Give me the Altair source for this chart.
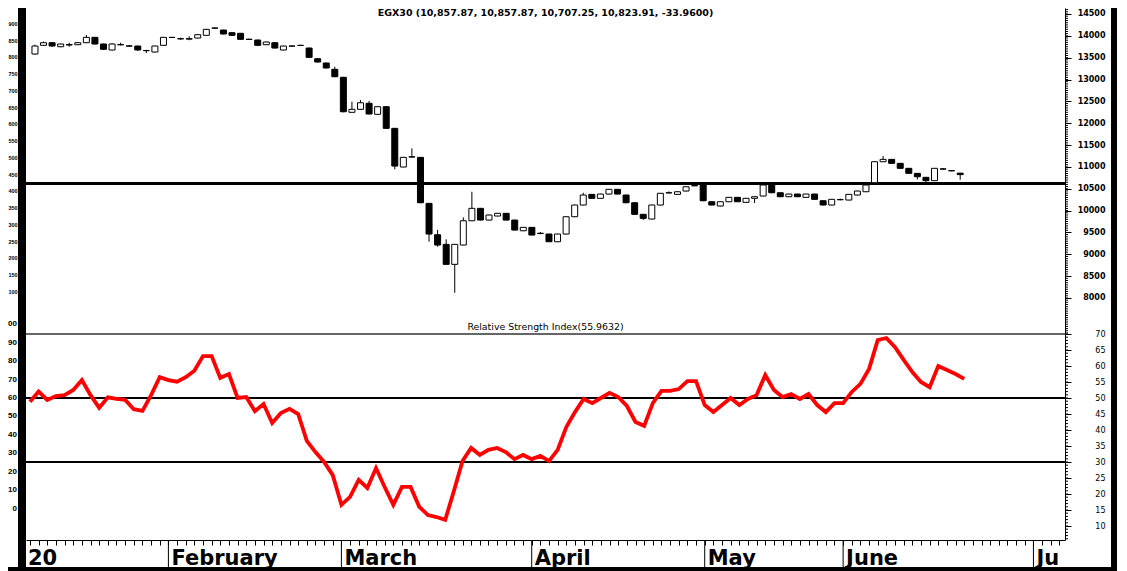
import altair as alt
import pandas as pd

# ---------------- data ----------------
OPEN_JAN = [13584, 13783, 13843, 13751, 13790, 13797, 13843, 13966, 13813, 13676, 13795, 13770, 13767, 13665, 13630, 13783]
HIGH_JAN = [13800, 13870, 13860, 13820, 13843, 13850, 14019, 13975, 13820, 13830, 13843, 13790, 13775, 13680, 13775, 13975]
LOW_JAN = [13570, 13775, 13750, 13740, 13751, 13790, 13835, 13800, 13680, 13670, 13780, 13750, 13660, 13607, 13620, 13775]
CLOSE_JAN = [13767, 13843, 13767, 13813, 13800, 13843, 13966, 13813, 13692, 13813, 13800, 13765, 13676, 13660, 13767, 13966]

OPEN_FEB = [13966, 13930, 13925, 13950, 14012, 14180, 14133, 14072, 14058, 13922, 13904, 13797, 13843, 13676, 13767, 13783, 13721, 13476, 13378, 13234]
HIGH_FEB = [13975, 13960, 13990, 14040, 14160, 14190, 14140, 14085, 14065, 13935, 13915, 13870, 13850, 13775, 13780, 13795, 13730, 13485, 13390, 13293]
LOW_FEB = [13955, 13910, 13900, 13940, 14005, 14165, 14035, 14005, 13910, 13905, 13775, 13790, 13710, 13665, 13755, 13770, 13500, 13390, 13255, 13055]
CLOSE_FEB = [13962, 13936, 13936, 14026, 14149, 14176, 14042, 14012, 13920, 13918, 13783, 13859, 13721, 13767, 13765, 13780, 13508, 13401, 13264, 13064]

OPEN_MAR = [13051, 12250, 12318, 12456, 12204, 12378, 11883, 10998, 11225, 11219, 10166, 9448, 9228, 8770, 9212, 9768, 10052, 9784, 9876, 9938, 9784, 9539]
HIGH_MAR = [13060, 12492, 12531, 12508, 12390, 12385, 11890, 11230, 11425, 11225, 10175, 9560, 9343, 9235, 9846, 10432, 10060, 9910, 9945, 9945, 9790, 9625]
LOW_MAR = [12250, 12240, 12310, 12200, 12195, 11875, 10945, 10990, 11215, 10170, 9288, 9173, 8760, 8120, 9205, 9760, 9775, 9775, 9870, 9775, 9545, 9530]
CLOSE_MAR = [12263, 12318, 12469, 12211, 12378, 11883, 11020, 11219, 11233, 10180, 9464, 9212, 8770, 9228, 9768, 10052, 9784, 9899, 9938, 9784, 9555, 9617]

OPEN_APR = [9617, 9475, 9464, 9288, 9464, 9860, 10128, 10372, 10281, 10379, 10487, 10357, 10180, 9915, 9807, 10128, 10405, 10372, 10448, 10568]
HIGH_APR = [9625, 9510, 9470, 9470, 9870, 10135, 10409, 10380, 10385, 10495, 10495, 10365, 10190, 9920, 10135, 10405, 10440, 10440, 10555, 10600]
LOW_APR = [9435, 9460, 9280, 9280, 9455, 9850, 10120, 10275, 10275, 10370, 10370, 10170, 9905, 9784, 9800, 10120, 10395, 10365, 10440, 10560]
CLOSE_APR = [9441, 9482, 9288, 9464, 9860, 10128, 10357, 10281, 10379, 10487, 10379, 10180, 9915, 9823, 10128, 10396, 10409, 10432, 10546, 10572]

OPEN_MAY = [10586, 10203, 10105, 10203, 10304, 10189, 10281, 10334, 10586, 10409, 10318, 10379, 10304, 10379, 10226, 10128]
HIGH_MAY = [10600, 10210, 10210, 10310, 10310, 10290, 10325, 10595, 10595, 10415, 10385, 10385, 10385, 10385, 10235, 10265]
LOW_MAY = [10215, 10120, 10095, 10195, 10195, 10180, 10173, 10325, 10400, 10310, 10310, 10310, 10295, 10250, 10120, 10120]
CLOSE_MAY = [10226, 10128, 10203, 10304, 10203, 10281, 10318, 10586, 10409, 10318, 10379, 10318, 10379, 10258, 10128, 10258]

OPEN_JUN = [10250, 10242, 10357, 10432, 10638, 11119, 11173, 11082, 10968, 10853, 10762, 10685, 10955, 10915, 10857.87]
HIGH_JUN = [10275, 10380, 10455, 10595, 11125, 11249, 11180, 11090, 10975, 10860, 10770, 10975, 10975, 10925, 10857.87]
LOW_JUN = [10235, 10235, 10350, 10425, 10630, 11110, 11075, 10960, 10845, 10716, 10654, 10678, 10940, 10900, 10707.25]
CLOSE_JUN = [10252, 10372, 10448, 10586, 11119, 11173, 11082, 10968, 10853, 10776, 10685, 10968, 10950, 10910, 10823.91]

RSI_JAN = [48.8, 52.0, 49.4, 50.6, 50.9, 52.5, 55.6, 50.9, 46.9, 50.2, 49.7, 49.4, 46.5, 46.0, 50.9, 56.5]
RSI_FEB = [55.6, 55.1, 56.5, 58.5, 63.1, 63.1, 56.3, 57.5, 50.0, 50.3, 45.9, 48.1, 42.2, 45.3, 46.6, 45.0, 36.6, 33.1, 30.0, 25.9]
RSI_MAR = [16.6, 19.1, 24.4, 21.9, 28.1, 22.2, 16.6, 22.2, 22.2, 16.0, 13.4, 12.8, 11.9, 20.9, 30.3, 34.4, 32.2, 33.8, 34.4, 33.1, 30.9, 32.2]
RSI_APR = [30.9, 31.9, 30.3, 33.8, 40.9, 45.6, 49.7, 48.4, 50.0, 51.6, 50.3, 47.5, 42.5, 41.3, 48.4, 52.2, 52.2, 52.8, 55.3, 55.3]
RSI_MAY = [47.8, 45.6, 47.8, 50.0, 47.8, 49.7, 50.9, 57.2, 52.5, 50.3, 51.25, 49.7, 51.25, 47.8, 45.6, 48.4]
RSI_JUN = [48.4, 51.9, 54.4, 59.1, 68.1, 68.75, 65.9, 61.9, 58.1, 55.0, 53.4, 60.0, 58.75, 57.5, 55.96]

SUPPORT_LEVEL = [10620]
RSI_TOP_LEVEL = [70]
RSI_LEVELS = [50, 30]

MONTH_NAMES = ["20", "February", "March", "April", "May", "June", "Ju"]
MONTH_POS = [-0.58, 16, 36, 58, 78, 94, 116]
MONTH_DIVIDERS = [16, 36, 58, 78, 94, 116]
DAY_TICKS = list(range(0, 120))

PRICE_TICKS = list(range(8000, 14501, 500))
PRICE_MINOR = list(range(7200, 14601, 50))
RSI_TICKS = list(range(10, 71, 5))
RSI_MINOR = list(range(6, 71))

LEFT_PRICE_VALUES = [900, 850, 800, 750, 700, 650, 600, 550, 500, 450, 400, 350, 300, 250, 200, 150, 100]
LEFT_PRICE_TEXT = ["900", "850", "800", "750", "700", "650", "600", "550", "500", "450", "400", "350", "300", "250", "200", "150", "100"]
LEFT_RSI_VALUES = [100, 90, 80, 70, 60, 50, 40, 30, 20, 10, 0]
LEFT_RSI_TEXT = ["00", "90", "80", "70", "60", "50", "40", "30", "20", "10", "0"]

TITLE_PRICE = "EGX30 (10,857.87, 10,857.87, 10,707.25, 10,823.91, -33.9600)"
TITLE_RSI = "Relative Strength Index(55.9632)"

# ---------------- tables ----------------
OPEN = OPEN_JAN + OPEN_FEB + OPEN_MAR + OPEN_APR + OPEN_MAY + OPEN_JUN
HIGH = HIGH_JAN + HIGH_FEB + HIGH_MAR + HIGH_APR + HIGH_MAY + HIGH_JUN
LOW = LOW_JAN + LOW_FEB + LOW_MAR + LOW_APR + LOW_MAY + LOW_JUN
CLOSE = CLOSE_JAN + CLOSE_FEB + CLOSE_MAR + CLOSE_APR + CLOSE_MAY + CLOSE_JUN
RSI = RSI_JAN + RSI_FEB + RSI_MAR + RSI_APR + RSI_MAY + RSI_JUN

n = len(CLOSE)
candles = pd.DataFrame({
    "i": list(range(n)), "open": OPEN, "high": HIGH, "low": LOW, "close": CLOSE,
})
candles["dir"] = ["up" if c >= o else "down" for o, c in zip(OPEN, CLOSE)]
rsi_df = pd.DataFrame({"i": list(range(len(RSI))), "rsi": RSI})

one = pd.DataFrame({"k": [0]})
FONT = "DejaVu Sans"
NARROW = "Liberation Sans Narrow, Liberation Sans"

W = 1039
H_PRICE = 325
H_RSI = 207

xscale = alt.Scale(domain=[-0.462, 119.65], nice=False, zero=False)
pscale = alt.Scale(domain=[7198.9, 14637.3], nice=False, zero=False)
rscale = alt.Scale(domain=[5.625, 70.3125], nice=False, zero=False)
left_pscale = alt.Scale(domain=[-22.39, 947.76], nice=False, zero=False)
left_rscale = alt.Scale(domain=[-16.96, 95.23], nice=False, zero=False)


def right_axis(values, weight):
    return alt.Axis(orient="right", values=values, title=None, grid=False, format="d",
                    domain=True, domainColor="black", domainWidth=1,
                    ticks=True, tickColor="black", tickSize=6, tickWidth=1,
                    labelPadding=34, labelAlign="right", labelBaseline="middle",
                    labelFont=FONT, labelFontWeight=weight, labelFontSize=8,
                    labelColor="black", labelOverlap=False, labelFlush=False)


PRICE_AXIS = right_axis(PRICE_TICKS, "bold")
RSI_AXIS = right_axis(RSI_TICKS, "normal")
X_AXIS = alt.Axis(orient="bottom", values=DAY_TICKS, labels=False, title=None, grid=False,
                  domain=True, domainColor="black", domainWidth=1,
                  ticks=True, tickColor="black", tickSize=5, tickWidth=1)


def frame(x1, x2, y1, y2):
    return alt.Chart(one).mark_rect(color="black").encode(
        x=alt.value(x1), x2=alt.value(x2), y=alt.value(y1), y2=alt.value(y2))


# ---------------- price panel ----------------
wicks = alt.Chart(candles).mark_rule(color="black", strokeWidth=1).encode(
    x=alt.X("i:Q", scale=xscale, axis=None),
    y=alt.Y("low:Q", scale=pscale, axis=PRICE_AXIS),
    y2="high:Q",
)
bodies = alt.Chart(candles).mark_bar(size=6, stroke="black", strokeWidth=1).encode(
    x=alt.X("i:Q", scale=xscale, axis=None),
    y=alt.Y("open:Q", scale=pscale, axis=PRICE_AXIS),
    y2="close:Q",
    fill=alt.Fill("dir:N", scale=alt.Scale(domain=["up", "down"], range=["white", "black"]), legend=None),
)
support = alt.Chart(pd.DataFrame({"v": SUPPORT_LEVEL})).mark_rule(color="black", strokeWidth=3).encode(
    y=alt.Y("v:Q", scale=pscale, axis=PRICE_AXIS))
pminor = alt.Chart(pd.DataFrame({"v": PRICE_MINOR})).mark_rule(color="black", strokeWidth=1).encode(
    x=alt.value(W), x2=alt.value(W + 3), y=alt.Y("v:Q", scale=pscale, axis=PRICE_AXIS))
ptitle = alt.Chart(one).mark_text(text=TITLE_PRICE, font=FONT, fontSize=9.5, fontWeight="bold",
                                  align="center", baseline="top", color="black").encode(
    x=alt.value(W / 2), y=alt.value(0))
rtitle = alt.Chart(one).mark_text(text=TITLE_RSI, font=FONT, fontSize=9.4,
                                  align="center", baseline="middle", color="black").encode(
    x=alt.value(W / 2), y=alt.value(319))

price_main = alt.layer(
    support, wicks, bodies, pminor, ptitle, rtitle,
    frame(-8, 0, 0, H_PRICE), frame(1085, 1091, 0, H_PRICE),
)
left_price = alt.Chart(pd.DataFrame({"v": LEFT_PRICE_VALUES, "t": LEFT_PRICE_TEXT})).mark_text(
    font="Liberation Sans", fontSize=5.5, fontWeight="bold", align="right", baseline="middle", color="black").encode(
    x=alt.value(-8.4), y=alt.Y("v:Q", scale=left_pscale, axis=None), text="t:N")

price = alt.layer(price_main, left_price).resolve_scale(y="independent").properties(width=W, height=H_PRICE)

# ---------------- RSI panel ----------------
top_line = alt.Chart(pd.DataFrame({"v": RSI_TOP_LEVEL})).mark_rule(color="#333333", strokeWidth=1.5).encode(
    y=alt.Y("v:Q", scale=rscale, axis=RSI_AXIS))
levels = alt.Chart(pd.DataFrame({"v": RSI_LEVELS})).mark_rule(color="black", strokeWidth=2).encode(
    y=alt.Y("v:Q", scale=rscale, axis=RSI_AXIS))
rsi_line = alt.Chart(rsi_df).mark_line(color="#ff0000", strokeWidth=3.8).encode(
    x=alt.X("i:Q", scale=xscale, axis=X_AXIS),
    y=alt.Y("rsi:Q", scale=rscale, axis=RSI_AXIS),
)
rminor = alt.Chart(pd.DataFrame({"v": RSI_MINOR})).mark_rule(color="black", strokeWidth=1).encode(
    x=alt.value(W), x2=alt.value(W + 3), y=alt.Y("v:Q", scale=rscale, axis=RSI_AXIS))
dividers = alt.Chart(pd.DataFrame({"m": MONTH_DIVIDERS})).mark_rule(color="black", strokeWidth=1).encode(
    x=alt.X("m:Q", scale=xscale, axis=X_AXIS), y=alt.value(H_RSI), y2=alt.value(H_RSI + 28))
month_text = alt.Chart(pd.DataFrame({"m": MONTH_POS, "name": MONTH_NAMES})).mark_text(
    font=FONT, fontSize=21, fontWeight="bold", align="left", baseline="alphabetic", dx=3, color="black").encode(
    x=alt.X("m:Q", scale=xscale, axis=X_AXIS), y=alt.value(232), text="name:N")

rsi_main = alt.layer(
    top_line, levels, rsi_line, rminor, dividers, month_text,
    frame(-8, 0, 0, H_RSI + 31), frame(1085, 1091, 0, H_RSI + 31), frame(-30, 1091, 234, 238),
)
left_rsi = alt.Chart(pd.DataFrame({"v": LEFT_RSI_VALUES, "t": LEFT_RSI_TEXT})).mark_text(
    font=NARROW, fontSize=8, fontWeight="bold", align="right", baseline="middle", color="black").encode(
    x=alt.value(-9), y=alt.Y("v:Q", scale=left_rscale, axis=None), text="t:N")

rsi = alt.layer(rsi_main, left_rsi).resolve_scale(y="independent").properties(width=W, height=H_RSI)

chart = alt.vconcat(price, rsi, spacing=0, bounds="flush").properties(
    padding={"left": -12, "top": 0, "right": 0, "bottom": 0}
).configure_view(stroke=None)

chart.save("out.html", embed_options={"renderer": "svg", "actions": False})
